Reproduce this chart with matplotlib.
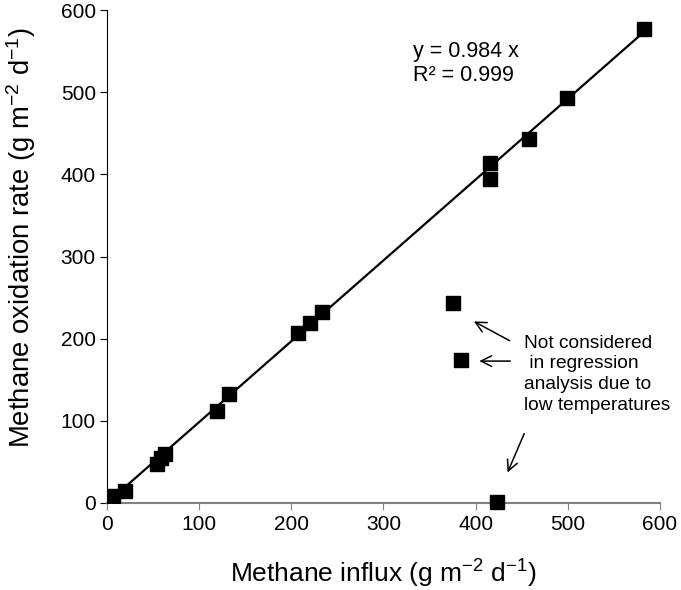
import numpy as np
import matplotlib.pyplot as plt

plt.rcParams['font.family'] = ['Liberation Sans', 'DejaVu Sans']
plt.rcParams['mathtext.fontset'] = 'custom'
plt.rcParams['mathtext.rm'] = 'Liberation Sans'
plt.rcParams['mathtext.it'] = 'Liberation Sans:italic'

# Data (g m-2 d-1)
influx = [7, 20, 54, 59, 63, 119, 132, 207, 220, 233, 416, 416, 458, 499, 583]
oxidation = [8, 15, 48, 55, 60, 112, 133, 207, 219, 233, 414, 394, 443, 493, 577]

# points excluded from the regression (low temperatures)
cold_influx = [375, 384, 423]
cold_oxidation = [244, 174, 1]

slope = 0.984
r2 = 0.999

fig = plt.figure(figsize=(6.81, 5.90), dpi=100)
ax = fig.add_axes([0.157, 0.1475, 0.812, 0.8355])

xfit = np.array([0, 585])
ax.plot(xfit, slope * xfit, color='black', lw=1.6, zorder=2)
ax.plot(influx, oxidation, 's', color='black', ms=9.5, zorder=3)
ax.plot(cold_influx, cold_oxidation, 's', color='black', ms=9.5, zorder=3, clip_on=False)

ax.set_xlim(0, 600)
ax.set_ylim(0, 600)
ax.set_xticks(range(0, 601, 100))
ax.set_yticks(range(0, 601, 100))

ax.spines['top'].set_visible(False)
ax.spines['right'].set_visible(False)
ax.spines['left'].set_color('black')
ax.spines['bottom'].set_color('#808080')
ax.spines['bottom'].set_linewidth(1.5)
ax.tick_params(axis='x', colors='#808080', labelcolor='black', length=5, labelsize=15, pad=4)
ax.tick_params(axis='y', colors='black', length=5, labelsize=15, pad=3)

ax.set_xlabel(r'Methane influx (g m$^{-2}$ d$^{-1}$)', fontsize=19, labelpad=17)
ax.set_ylabel(r'Methane oxidation rate (g m$^{-2}$ d$^{-1}$)', fontsize=19.8)
ax.yaxis.set_label_coords(-0.124, 0.5375)

ax.text(332, 549, 'y = 0.984 x', fontsize=15.5, va='center', ha='left')
ax.text(332, 520, 'R² = 0.999', fontsize=15.5, va='center', ha='left')

ax.text(453, 205, 'Not considered\n in regression\nanalysis due to\nlow temperatures',
        fontsize=13.8, va='top', ha='left', linespacing=1.3)

arrow = dict(arrowstyle='->', color='black', lw=1.1, mutation_scale=19)
ax.annotate('', xy=(395.6, 222.6), xytext=(439.6, 195.9), arrowprops=arrow)
ax.annotate('', xy=(401, 172.7), xytext=(440.7, 172.7), arrowprops=arrow)
ax.annotate('', xy=(433.5, 34), xytext=(454, 87.6), arrowprops=arrow)

fig.savefig('out.png', dpi=100)
